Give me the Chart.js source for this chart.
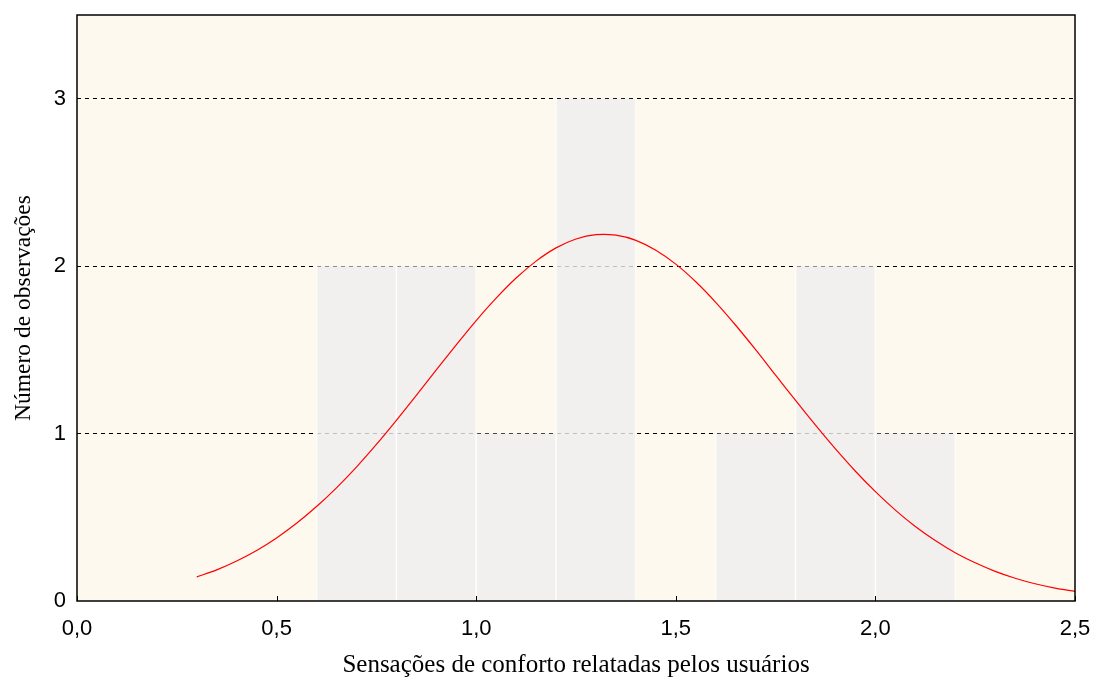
<!DOCTYPE html>
<html>
<head>
<meta charset="utf-8">
<script src="https://cdn.jsdelivr.net/npm/chart.js@4/dist/chart.umd.min.js"></script>
<style>
  html, body { margin: 0; padding: 0; background: #fff; }
  #wrap { width: 1093px; height: 680px; }
</style>
</head>
<body>
<div id="wrap"><canvas id="hist"></canvas></div>
<script>
// histogram bins (centres) and counts
const binCentres = [0.7, 0.9, 1.1, 1.3, 1.5, 1.7, 1.9, 2.1];
const binCounts  = [2, 2, 1, 3, 0, 1, 2, 1];

// fitted normal curve
const curveX = [0.30, 0.35, 0.40, 0.45, 0.50, 0.55, 0.60, 0.65, 0.70, 0.75, 0.80, 0.85,
                0.90, 0.95, 1.00, 1.05, 1.10, 1.15, 1.20, 1.25, 1.30, 1.35, 1.40, 1.45,
                1.50, 1.55, 1.60, 1.65, 1.70, 1.75, 1.80, 1.85, 1.90, 1.95, 2.00, 2.05,
                2.10, 2.15, 2.20, 2.25, 2.30, 2.35, 2.40, 2.45, 2.50];
const curveY = [0.144, 0.186, 0.239, 0.302, 0.377, 0.464, 0.564, 0.676, 0.800, 0.935, 1.079, 1.228,
                1.380, 1.530, 1.675, 1.809, 1.929, 2.030, 2.109, 2.162, 2.188, 2.185, 2.154, 2.095,
                2.012, 1.907, 1.784, 1.647, 1.501, 1.349, 1.198, 1.050, 0.908, 0.775, 0.653, 0.543,
                0.445, 0.361, 0.288, 0.228, 0.177, 0.136, 0.103, 0.077, 0.057];

const xTicks = [0, 0.5, 1.0, 1.5, 2.0, 2.5];
const yTicks = [0, 1, 2, 3];

// cream background + frame + inward x ticks
const frame = {
  id: 'frame',
  beforeDraw(chart) {
    const { ctx, chartArea: a } = chart;
    ctx.save();
    ctx.fillStyle = '#fdf9ef';
    ctx.fillRect(a.left, a.top, a.right - a.left, a.bottom - a.top);
    ctx.restore();
  },
  afterDraw(chart) {
    const { ctx, chartArea: a, scales } = chart;
    ctx.save();
    ctx.strokeStyle = '#000';
    ctx.lineWidth = 1.5;
    ctx.strokeRect(a.left, a.top, a.right - a.left, a.bottom - a.top);
    ctx.lineWidth = 1;
    ctx.beginPath();
    xTicks.forEach(v => {
      const px = Math.round(scales.x.getPixelForValue(v)) + 0.5;
      ctx.moveTo(px, a.bottom);
      ctx.lineTo(px, a.bottom - 5);
    });
    ctx.stroke();
    ctx.restore();
  }
};

new Chart(document.getElementById('hist'), {
  type: 'bar',
  plugins: [frame],
  data: {
    datasets: [
      {
        type: 'line',
        data: curveX.map((x, i) => ({ x: x, y: curveY[i] })),
        borderColor: '#ff0000',
        borderWidth: 1.2,
        pointRadius: 0,
        tension: 0.3,
        fill: false,
        order: 0
      },
      {
        type: 'bar',
        data: binCentres.map((x, i) => ({ x: x, y: binCounts[i] })),
        backgroundColor: 'rgba(238,238,238,0.8)',
        borderColor: '#ffffff',
        borderWidth: { left: 1, right: 1, top: 0, bottom: 0 },
        barPercentage: 1,
        categoryPercentage: 1,
        order: 1
      }
    ]
  },
  options: {
    responsive: true,
    maintainAspectRatio: false,
    animation: false,
    layout: { padding: { top: 15, right: 18, left: 0, bottom: 0 } },
    plugins: { legend: { display: false }, tooltip: { enabled: false } },
    scales: {
      x: {
        type: 'linear',
        offset: false,
        min: 0, max: 2.5,
        afterBuildTicks: s => { s.ticks = xTicks.map(v => ({ value: v })); },
        afterFit: s => { s.height = 79; s.paddingLeft = 0; s.paddingRight = 0; },
        ticks: {
          color: '#000',
          font: { family: 'Liberation Sans', size: 22 },
          padding: 7,
          maxRotation: 0,
          callback: v => v.toFixed(1).replace('.', ',')
        },
        grid: { display: false },
        border: { display: false },
        title: {
          display: true,
          text: 'Sensações de conforto relatadas pelos usuários',
          color: '#000',
          font: { family: 'Liberation Serif', size: 25 },
          padding: { top: 6, bottom: 0 }
        }
      },
      y: {
        min: 0, max: 3.5,
        afterBuildTicks: s => { s.ticks = yTicks.map(v => ({ value: v })); },
        afterFit: s => { s.width = 77; s.paddingTop = 0; s.paddingBottom = 0; },
        ticks: {
          color: '#000',
          font: { family: 'Liberation Sans', size: 22 },
          padding: 11
        },
        grid: {
          color: ctx => (ctx.tick && ctx.tick.value === 0) ? 'rgba(0,0,0,0)' : '#000',
          lineWidth: 1,
          drawTicks: false,
          tickLength: 0
        },
        border: { display: false, dash: [4, 4] },
        title: {
          display: true,
          text: 'Número de observações',
          color: '#000',
          font: { family: 'Liberation Serif', size: 23.5 },
          padding: { top: 10, bottom: 4 }
        }
      }
    }
  }
});
</script>
</body>
</html>
